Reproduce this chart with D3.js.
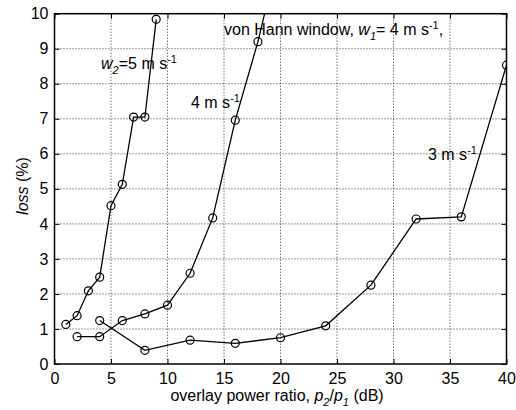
<!DOCTYPE html>
<html><head><meta charset="utf-8">
<script src="https://cdn.jsdelivr.net/npm/d3@7"></script>
<style>
body{margin:0;background:#fff;}
text{font-family:"Liberation Sans",Arial,sans-serif;fill:#000;}
</style></head>
<body><svg id="c" width="516" height="410"></svg>
<script>
const xTicks = [0,5,10,15,20,25,30,35,40];
const yTicks = [0,1,2,3,4,5,6,7,8,9,10];
const x5 = [1,2,3,4,5,6,7,8,9];
const y5 = [1.13,1.38,2.09,2.48,4.52,5.13,7.05,7.05,9.84];
const x4 = [2,4,6,8,10,12,14,16,18,20];
const y4 = [0.78,0.78,1.24,1.43,1.68,2.59,4.17,6.96,9.2,11.9];
const x3 = [4,8,12,16,20,24,28,32,36,40];
const y3 = [1.24,0.39,0.68,0.59,0.75,1.09,2.25,4.14,4.2,8.53];

const svg = d3.select("#c");
const L=54.5, R=506.5, T=13.7, B=364;
const x = d3.scaleLinear().domain([0,40]).range([L,R]);
const y = d3.scaleLinear().domain([0,10]).range([B,T]);

svg.append("defs").append("clipPath").attr("id","clip")
  .append("rect").attr("x",L).attr("y",T).attr("width",R-L).attr("height",B-T);

// grid
const g = svg.append("g");
g.selectAll(".gx").data(xTicks.slice(1,-1)).enter().append("line")
  .attr("x1",d=>x(d)).attr("x2",d=>x(d)).attr("y1",T).attr("y2",B)
  .attr("stroke","#000").attr("stroke-width",0.8).attr("stroke-dasharray","1,2");
g.selectAll(".gy").data(yTicks.slice(1,-1)).enter().append("line")
  .attr("y1",d=>y(d)).attr("y2",d=>y(d)).attr("x1",L).attr("x2",R)
  .attr("stroke","#000").attr("stroke-width",0.8).attr("stroke-dasharray","1,2");

// axes
svg.append("g").attr("transform",`translate(0,${B})`)
  .call(d3.axisBottom(x).tickValues(xTicks).tickSize(-5).tickPadding(9).tickFormat(d3.format("d")));
svg.append("g").attr("transform",`translate(${L},0)`)
  .call(d3.axisLeft(y).tickValues(yTicks).tickSize(-5).tickPadding(6).tickFormat(d3.format("d")));
svg.append("g").attr("transform",`translate(0,${T})`)
  .call(d3.axisTop(x).tickValues(xTicks).tickSize(-5).tickFormat(""));
svg.append("g").attr("transform",`translate(${R},0)`)
  .call(d3.axisRight(y).tickValues(yTicks).tickSize(-5).tickFormat(""));
svg.selectAll(".domain").remove();
svg.selectAll(".tick line").attr("stroke","#000").attr("stroke-width",1);
svg.selectAll(".tick text").style("font-size","16px").style("font-family","'Liberation Sans',Arial,sans-serif");
svg.append("rect").attr("x",L).attr("y",T).attr("width",R-L).attr("height",B-T)
  .attr("fill","none").attr("stroke","#000").attr("stroke-width",1.5);

// series
const line = d3.line().x(d=>x(d[0])).y(d=>y(d[1]));
const series = [[x5,y5],[x4,y4],[x3,y3]];
const plot = svg.append("g").attr("clip-path","url(#clip)");
series.forEach(([xs,ys])=>{
  const pts = xs.map((v,i)=>[v,ys[i]]);
  plot.append("path").datum(pts).attr("d",line).attr("fill","none")
    .attr("stroke","#000").attr("stroke-width",1.3);
  plot.selectAll(null).data(pts.filter(p=>p[1]<=10)).enter().append("circle")
    .attr("cx",d=>x(d[0])).attr("cy",d=>y(d[1])).attr("r",4)
    .attr("fill","none").attr("stroke","#000").attr("stroke-width",1.2);
});

// annotations
function label(sel,parts){
  parts.forEach(p=>{
    const s = sel.append("tspan").text(p.t);
    if(p.i) s.style("font-style","italic");
    if(p.dy) s.attr("dy",p.dy);
    if(p.s) s.style("font-size","11px");
  });
  return sel;
}
function txt(xp,yp){ return svg.append("text").attr("x",xp).attr("y",yp).style("font-size","16px"); }
label(txt(224,35),[{t:"von Hann window, "},{t:"w",i:1},{t:"1",i:1,s:1,dy:5},{t:"= 4 m s",dy:-5},{t:"-1",s:1,dy:-6},{t:",",dy:6}]);
label(txt(101,69),[{t:"w",i:1},{t:"2",i:1,s:1,dy:5},{t:"=5 m s",dy:-5},{t:"-1",s:1,dy:-6}]);
label(txt(191,108),[{t:"4 m s"},{t:"-1",s:1,dy:-6}]);
label(txt(428,160),[{t:"3 m s"},{t:"-1",s:1,dy:-6}]);

// axis titles
const xt = svg.append("text").attr("x",277).attr("y",401).attr("text-anchor","middle").style("font-size","16px");
label(xt,[{t:"overlay power ratio, "},{t:"p",i:1},{t:"2",i:1,s:1,dy:5},{t:"/",dy:-5},{t:"p",i:1},{t:"1",i:1,s:1,dy:5},{t:" (dB)",dy:-5}]);

const yt = svg.append("text").attr("transform","translate(28,186) rotate(-90)").attr("text-anchor","middle").style("font-size","16px");
label(yt,[{t:"loss",i:1},{t:" (%)"}]);
</script></body></html>
